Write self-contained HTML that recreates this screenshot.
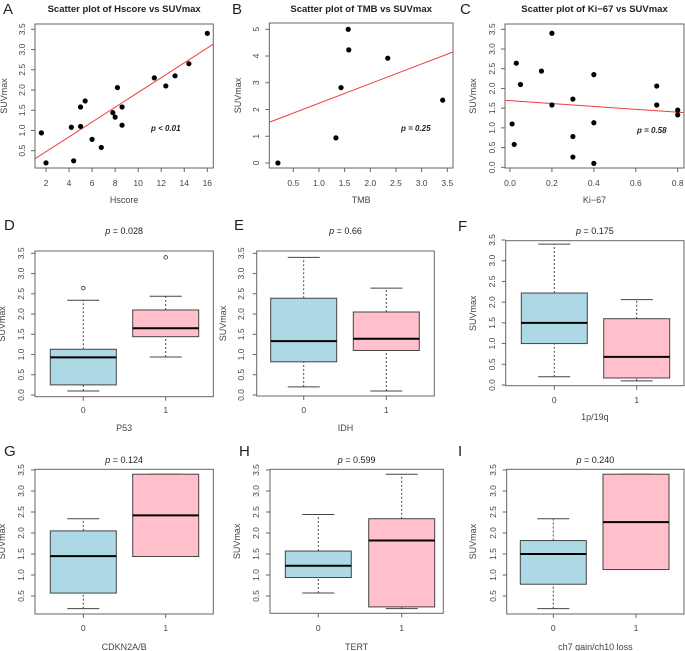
<!DOCTYPE html>
<html><head><meta charset="utf-8"><style>
html,body{margin:0;padding:0;background:#fff;}
svg{display:block;font-family:"Liberation Sans",Arial,sans-serif;}
</style></head><body>
<svg id="fig" width="685" height="651" viewBox="0 0 685 651" xmlns="http://www.w3.org/2000/svg"></svg>
<script>
// ---- Scatter data ----
const aHscore = [1.6,2,4.2,4.4,5,5,5.4,6,6.8,7.8,8,8.2,8.6,8.6,11.4,12.4,13.2,14.4,16];
const aSuv    = [0.94,0.2,1.08,0.25,1.1,1.58,1.73,0.78,0.58,1.44,1.33,2.06,1.58,1.13,2.3,2.1,2.35,2.65,3.4];
const aFit = [0.11,0.183];
const bTmb = [0.2,1.33,1.43,1.57,1.58,2.34,3.41];
const bSuv = [0,0.94,2.82,5,4.23,3.92,2.35];
const bFit = [1.50,0.735];
const cKi = [0.01,0.02,0.03,0.05,0.15,0.2,0.2,0.3,0.3,0.3,0.4,0.4,0.4,0.7,0.7,0.8,0.8];
const cSuv = [1.1,0.58,2.64,2.1,2.44,3.4,1.58,1.73,0.78,0.26,2.35,1.13,0.1,2.06,1.58,1.45,1.33];
const cFit = [1.69,-0.365];
const aXTicks = [2,4,6,8,10,12,14,16];
const bXTicks = ["0.5","1.0","1.5","2.0","2.5","3.0","3.5"];
const cXTicks = ["0.0","0.2","0.4","0.6","0.8"];
const yTicks35 = ["0.0","0.5","1.0","1.5","2.0","2.5","3.0","3.5"];
const yTicks35b = ["0.5","1.0","1.5","2.0","2.5","3.0","3.5"];
const bYTicks = ["0","1","2","3","4","5"];
// ---- Box data: [min,q1,median,q3,max] ----
const dStats = [[0.1,0.25,0.93,1.13,2.34],[0.94,1.44,1.65,2.1,2.44]];
const dOut = [[2.64],[3.4]];
const eStats = [[0.2,0.82,1.33,2.39,3.4],[0.1,1.1,1.39,2.05,2.64]];
const fStats = [[0.2,1.0,1.5,2.22,3.4],[0.1,0.17,0.68,1.6,2.06]];
const gStats = [[0.2,0.57,1.45,2.05,2.34],[1.44,1.44,2.42,3.4,3.4]];
const hStats = [[0.57,0.94,1.22,1.57,2.44],[0.2,0.24,1.82,2.34,3.4]];
const iStats = [[0.2,0.78,1.5,1.82,2.34],[1.13,1.13,2.26,3.4,3.4]];
const groups = ["0","1"];

const NS="http://www.w3.org/2000/svg";
const svg=document.getElementById('fig');
function mk(tag,attrs,name,inter,parent,txt){
  const el=document.createElementNS(NS,tag);
  for(const k in attrs) el.setAttribute(k,attrs[k]);
  
  
  if(txt!==undefined) el.textContent=txt;
  (parent||svg).appendChild(el);
  return el;
}
function lin(v0,p0,v1,p1){return v=>p0+(v-v0)*(p1-p0)/(v1-v0);}

function frame(o){
  const g=mk('g',{},o.id+'-panel',false);
  mk('text',{x:o.letter[0],y:o.letter[1],'font-size':15,fill:'#222'},o.id+'-panel-letter',false,g,o.L);
  if(o.title) mk('text',{x:(o.l+o.r)/2,y:o.titleY,'font-size':9.5,'font-weight':'bold','text-anchor':'middle',fill:'#222'},'chart-title',false,g,o.title);
  if(o.pTitle){const t=mk('text',{x:(o.l+o.r)/2,y:o.titleY,'font-size':9,'text-anchor':'middle',fill:'#222'},'p-value-title',false,g);
    mk('tspan',{'font-style':'italic'},'p-symbol',false,t,'p');mk('tspan',{},'p-value',false,t,' = '+o.pTitle);}
  mk('rect',{x:o.l,y:o.t,width:o.r-o.l,height:o.b-o.t,fill:'none',stroke:'#666','stroke-width':1},'plot-frame',false,g);
  o.yt.forEach(t=>{const y=o.Y(parseFloat(t));
    mk('line',{x1:o.l-4,x2:o.l,y1:y,y2:y,stroke:'#666'},'y-tick',false,g);
    mk('text',{x:o.ytx,y:y,'font-size':8.5,fill:'#444','text-anchor':'middle',transform:`rotate(-90 ${o.ytx} ${y})`},'y-tick-label',false,g,t);});
  o.xt.forEach(t=>{const x=o.X(t);
    mk('line',{x1:x,x2:x,y1:o.b,y2:o.b+4,stroke:'#666'},'x-tick',false,g);
    mk('text',{x:x,y:o.xty,'font-size':8.5,fill:'#444','text-anchor':'middle'},'x-tick-label',false,g,String(t));});
  mk('text',{x:o.ylx,y:(o.t+o.b)/2,'font-size':9,fill:'#444','text-anchor':'middle',transform:`rotate(-90 ${o.ylx} ${(o.t+o.b)/2})`},'y-axis-title',false,g,'SUVmax');
  mk('text',{x:(o.l+o.r)/2,y:o.xly,'font-size':9,fill:'#444','text-anchor':'middle'},'x-axis-title',false,g,o.xlab);
  return g;
}
function scatter(o,xs,ys,fit,ptxt,px,py){
  const g=frame(o);
  const clip=mk('clipPath',{id:'clip-'+o.id},'clip',false,g);
  mk('rect',{x:o.l,y:o.t,width:o.r-o.l,height:o.b-o.t},'clip-rect',false,clip);
  const x0=o.Xi(o.l),x1=o.Xi(o.r);
  mk('line',{x1:o.l,x2:o.r,y1:o.Y(fit[0]+fit[1]*x0),y2:o.Y(fit[0]+fit[1]*x1),stroke:'#f03c3c','stroke-width':1,'clip-path':`url(#clip-${o.id})`},'regression-line',false,g);
  xs.forEach((v,i)=>mk('circle',{cx:o.X(v),cy:o.Y(ys[i]),r:2.6,fill:'#000'},'data-point',false,g));
  mk('text',{x:px,y:py,'font-size':8,'font-weight':'bold','font-style':'italic',fill:'#222'},'p-value-annotation',false,g,ptxt);
}
function boxes(o,stats,outs){
  const g=frame(o);
  const cols=['#add8e6','#ffc0cb'];
  stats.forEach((s,i)=>{
    const cx=o.X(groups[i]),hw=33,sw=16;
    mk('line',{x1:cx,x2:cx,y1:o.Y(s[0]),y2:o.Y(s[1]),stroke:'#444','stroke-dasharray':'2,2'},'lower-whisker',false,g);
    mk('line',{x1:cx,x2:cx,y1:o.Y(s[3]),y2:o.Y(s[4]),stroke:'#444','stroke-dasharray':'2,2'},'upper-whisker',false,g);
    mk('line',{x1:cx-sw,x2:cx+sw,y1:o.Y(s[0]),y2:o.Y(s[0]),stroke:'#444'},'min-cap',false,g);
    mk('line',{x1:cx-sw,x2:cx+sw,y1:o.Y(s[4]),y2:o.Y(s[4]),stroke:'#444'},'max-cap',false,g);
    mk('rect',{x:cx-hw,y:o.Y(s[3]),width:2*hw,height:Math.max(0.5,o.Y(s[1])-o.Y(s[3])),fill:cols[i],stroke:'#444','stroke-width':1},'box-group-'+groups[i],false,g);
    mk('line',{x1:cx-hw,x2:cx+hw,y1:o.Y(s[2]),y2:o.Y(s[2]),stroke:'#000','stroke-width':2},'median-line',false,g);
    if(outs) outs[i].forEach(v=>mk('circle',{cx:cx,cy:o.Y(v),r:1.8,fill:'none',stroke:'#333','stroke-width':0.8},'outlier-point',false,g));
  });
}
function gx(p0,p1){const f=lin(0,p0,1,p1);return t=>f(parseFloat(t));}

{const X=lin(2,46,16,207.3),Xi=lin(46,2,207.3,16);
scatter({id:'a',L:'A',letter:[3,14],title:'Scatter plot of Hscore vs SUVmax',titleY:12,l:35,r:213.3,t:24,b:168,
 X:v=>X(+v),Xi,Y:lin(0.5,150.7,3.5,29.3),yt:yTicks35b,ytx:25,xt:aXTicks,xty:186,ylx:7,xly:203,xlab:'Hscore'},aHscore,aSuv,aFit,'p < 0.01',151,131);}
{const X=lin(0.5,293.3,3.5,447.3),Xi=lin(293.3,0.5,447.3,3.5);
scatter({id:'b',L:'B',letter:[232,14],title:'Scatter plot of TMB vs SUVmax',titleY:12,l:269.3,r:453,t:23,b:168,
 X:v=>X(+v),Xi,Y:lin(0,163,5,29.3),yt:bYTicks,ytx:259,xt:bXTicks,xty:186,ylx:241,xly:203,xlab:'TMB'},bTmb,bSuv,bFit,'p = 0.25',401,131);}
{const X=lin(0,510,0.8,677.7),Xi=lin(510,0,677.7,0.8);
scatter({id:'c',L:'C',letter:[460,14],title:'Scatter plot of Ki−67 vs SUVmax',titleY:12,l:505,r:684,t:24,b:168,
 X:v=>X(+v),Xi,Y:lin(0,167.3,3.5,29.3),yt:yTicks35,ytx:495,xt:cXTicks,xty:186,ylx:476,xly:203,xlab:'Ki−67'},cKi,cSuv,cFit,'p = 0.58',637,133);}
boxes({id:'d',L:'D',letter:[4,230],pTitle:'0.028',titleY:234,l:35,r:213.3,t:251,b:396.7,X:gx(83.3,165.7),Y:lin(0,395,3.5,253.3),
 yt:yTicks35,ytx:24,xt:groups,xty:413,ylx:5,xly:431,xlab:'P53'},dStats,dOut);
boxes({id:'e',L:'E',letter:[234,230],pTitle:'0.66',titleY:234,l:256.7,r:434.3,t:251,b:396,X:gx(303.7,386.3),Y:lin(0,395,3.5,253.3),
 yt:yTicks35,ytx:244,xt:groups,xty:413,ylx:226,xly:431,xlab:'IDH'},eStats,null);
boxes({id:'f',L:'F',letter:[458,231],pTitle:'0.175',titleY:234,l:505.7,r:684,t:240.7,b:385.7,X:gx(554.3,636.7),Y:lin(0,385,3.5,240),
 yt:yTicks35,ytx:495,xt:groups,xty:403,ylx:476,xly:420,xlab:'1p/19q'},fStats,null);
boxes({id:'g',L:'G',letter:[4,456],pTitle:'0.124',titleY:463,l:35,r:213.3,t:469.3,b:614,X:gx(83.3,165.7),Y:lin(0.5,596,3.5,470),
 yt:yTicks35b,ytx:24,xt:groups,xty:631,ylx:5,xly:650,xlab:'CDKN2A/B'},gStats,null);
boxes({id:'h',L:'H',letter:[239,456],pTitle:'0.599',titleY:463,l:270,r:443.3,t:469.3,b:613.3,X:gx(318.3,401.7),Y:lin(0.5,596,3.5,470),
 yt:yTicks35b,ytx:259,xt:groups,xty:631,ylx:240,xly:650,xlab:'TERT'},hStats,null);
boxes({id:'i',L:'I',letter:[458,456],pTitle:'0.240',titleY:463,l:506.7,r:684,t:469.3,b:614,X:gx(553.3,636),Y:lin(0.5,596,3.5,470),
 yt:yTicks35b,ytx:496,xt:groups,xty:631,ylx:476,xly:650,xlab:'ch7 gain/ch10 loss'},iStats,null);
</script>
</body></html>
